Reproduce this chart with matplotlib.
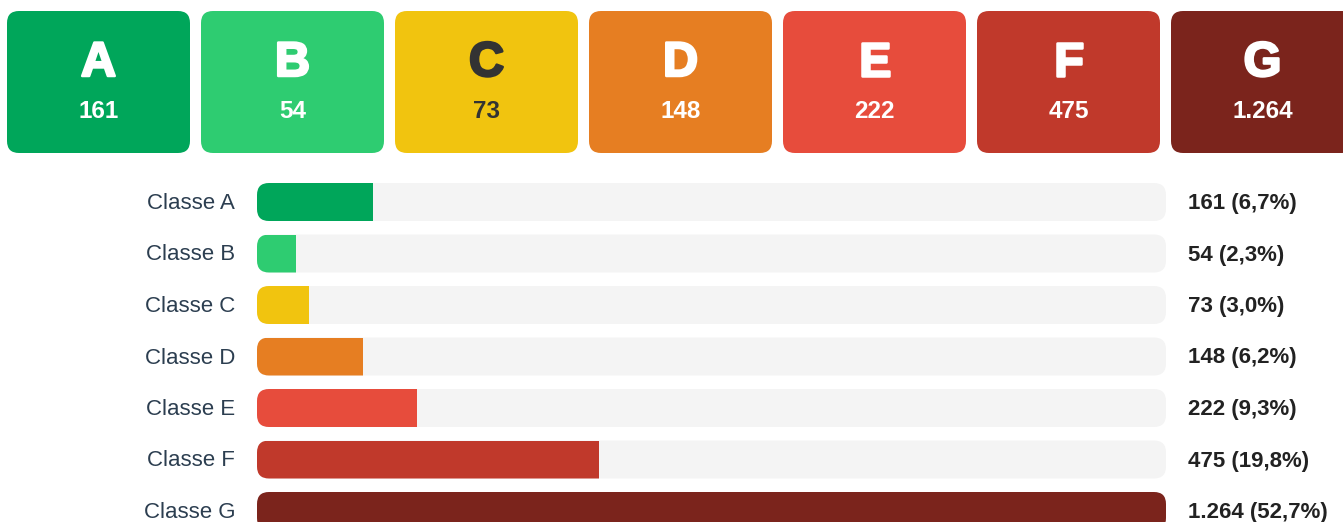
import matplotlib
matplotlib.use("Agg")
import matplotlib.pyplot as plt
from matplotlib.patches import FancyBboxPatch, Rectangle
import matplotlib.patheffects as pe

classes = ["A", "B", "C", "D", "E", "F", "G"]
counts = [161, 54, 73, 148, 222, 475, 1264]
count_labels = ["161", "54", "73", "148", "222", "475", "1.264"]
pct_labels = ["6,7%", "2,3%", "3,0%", "6,2%", "9,3%", "19,8%", "52,7%"]
colors = ["#00a65a", "#2ecc71", "#f1c40f", "#e67e22", "#e74c3c", "#c0392b", "#7b241c"]
card_text_colors = ["white", "white", "#333333", "white", "white", "white", "white"]

W, H = 1343, 522
fig = plt.figure(figsize=(W / 100, H / 100), dpi=100)
ax = fig.add_axes([0, 0, 1, 1])
ax.set_xlim(0, W)
ax.set_ylim(H, 0)
ax.axis("off")

FONT = ["Liberation Sans", "DejaVu Sans"]

# Cards
card_x0, card_pitch, card_w = 7, 194, 183
card_y0, card_h = 11, 142
for i, (c, n, col, tc) in enumerate(zip(classes, count_labels, colors, card_text_colors)):
    x = card_x0 + i * card_pitch
    p = FancyBboxPatch((x, card_y0), card_w, card_h,
                       boxstyle="round,pad=0,rounding_size=12",
                       fc=col, ec="none")
    ax.add_patch(p)
    cx = x + card_w / 2
    t = ax.text(cx, 76, c, ha="center", va="baseline", fontsize=35,
                fontweight="bold", color=tc, family=FONT)
    t.set_path_effects([pe.withStroke(linewidth=1.8, foreground=tc)])
    ax.text(cx, 118, n, ha="center", va="baseline", fontsize=17.5,
            fontweight="bold", color=tc, family=FONT)

# Bars
track_x0, track_x1 = 257, 1166
track_w = track_x1 - track_x0
row_top0, row_pitch, bar_h = 183, 51.5, 38
vmax = max(counts)
for i, (c, v, cl, pl, col) in enumerate(zip(classes, counts, count_labels, pct_labels, colors)):
    y = row_top0 + i * row_pitch
    track = FancyBboxPatch((track_x0, y), track_w, bar_h,
                           boxstyle="round,pad=0,rounding_size=12",
                           fc="#f4f4f4", ec="none")
    ax.add_patch(track)
    bw = v / vmax * track_w
    bar = Rectangle((track_x0, y), bw, bar_h, fc=col, ec="none")
    ax.add_patch(bar)
    bar.set_clip_path(track)
    yc = y + bar_h / 2
    ax.text(235, yc + 7, f"Classe {c}", ha="right", va="baseline", fontsize=16,
            color="#2c3e50", family=FONT)
    ax.text(1188, yc + 7, f"{cl} ({pl})", ha="left", va="baseline", fontsize=16,
            fontweight="bold", color="#222222", family=FONT)

fig.savefig("out.png", dpi=100, facecolor="white")
